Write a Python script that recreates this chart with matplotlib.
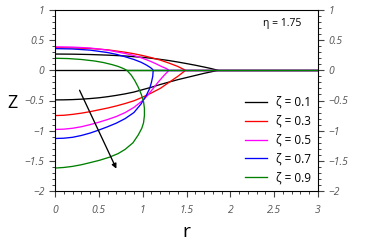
import matplotlib
matplotlib.use("Agg")
import matplotlib.pyplot as plt
from matplotlib.ticker import MultipleLocator

# ---- data ----
zeta_labels = ["ζ = 0.1", "ζ = 0.3", "ζ = 0.5", "ζ = 0.7", "ζ = 0.9"]
colors = ["black", "#ff0000", "#ff00ff", "#0000ff", "#008000"]

# zeta = 0.1 (upper surface out to tip, then lower surface back to axis)
r_01 = [0, 0.2, 0.4, 0.6, 0.8, 1.0, 1.1, 1.2, 1.3, 1.4, 1.5, 1.6, 1.7, 1.78, 1.86,
        1.78, 1.7, 1.6, 1.5, 1.4, 1.3, 1.2, 1.1, 1.0, 0.9, 0.8, 0.7, 0.6, 0.5, 0.4, 0.3, 0.2, 0.1, 0]
z_01 = [0.27, 0.268, 0.262, 0.252, 0.238, 0.215, 0.2, 0.182, 0.162, 0.138, 0.112, 0.085, 0.055, 0.03, 0.0,
        -0.025, -0.05, -0.085, -0.12, -0.155, -0.195, -0.235, -0.28, -0.32, -0.36, -0.39, -0.415, -0.437,
        -0.455, -0.468, -0.478, -0.485, -0.489, -0.49]
# zeta = 0.3
r_03 = [0, 0.2, 0.4, 0.6, 0.8, 0.9, 1.0, 1.1, 1.2, 1.3, 1.4, 1.49,
        1.4, 1.3, 1.2, 1.1, 1.0, 0.9, 0.8, 0.7, 0.6, 0.5, 0.4, 0.3, 0.2, 0.1, 0]
z_03 = [0.375, 0.372, 0.362, 0.34, 0.30, 0.275, 0.245, 0.21, 0.17, 0.12, 0.065, 0.0,
        -0.1, -0.2, -0.3, -0.375, -0.445, -0.505, -0.55, -0.59, -0.625, -0.655, -0.685, -0.71, -0.73,
        -0.745, -0.75]
# zeta = 0.5
r_05 = [0, 0.2, 0.4, 0.6, 0.8, 0.9, 1.0, 1.08, 1.15, 1.22, 1.27, 1.30,
        1.24, 1.18, 1.12, 1.06, 1.0, 0.9, 0.8, 0.7, 0.6, 0.5, 0.4, 0.3, 0.2, 0.1, 0]
z_05 = [0.39, 0.385, 0.37, 0.335, 0.28, 0.245, 0.2, 0.155, 0.11, 0.06, 0.03, 0.0,
        -0.09, -0.19, -0.3, -0.41, -0.5, -0.615, -0.7, -0.765, -0.815, -0.86, -0.9, -0.935, -0.96,
        -0.975, -0.98]
# zeta = 0.7
r_07 = [0, 0.2, 0.4, 0.6, 0.7, 0.8, 0.9, 0.98, 1.04, 1.09, 1.11, 1.12,
        1.115, 1.1, 1.08, 1.04, 0.98, 0.9, 0.8, 0.7, 0.6, 0.5, 0.4, 0.3, 0.2, 0.1, 0]
z_07 = [0.36, 0.354, 0.335, 0.295, 0.265, 0.225, 0.18, 0.135, 0.09, 0.045, 0.02, 0.0,
        -0.1, -0.2, -0.3, -0.42, -0.56, -0.7, -0.8, -0.875, -0.935, -0.99, -1.04, -1.08, -1.11,
        -1.125, -1.13]
# zeta = 0.9
r_09 = [0, 0.15, 0.3, 0.45, 0.55, 0.65, 0.72, 0.78, 0.82,
        0.87, 0.91, 0.95, 0.985, 1.01, 1.02, 1.02, 1.01, 0.99, 0.95, 0.89, 0.8, 0.72, 0.62, 0.51,
        0.4, 0.3, 0.2, 0.1, 0]
z_09 = [0.2, 0.195, 0.18, 0.155, 0.13, 0.095, 0.065, 0.03, 0.0,
        -0.08, -0.17, -0.28, -0.4, -0.52, -0.63, -0.75, -0.87, -0.96, -1.07, -1.2, -1.31, -1.38,
        -1.44, -1.49, -1.53, -1.565, -1.592, -1.61, -1.62]

r_series = [r_01, r_03, r_05, r_07, r_09]
z_series = [z_01, z_03, z_05, z_07, z_09]
tip_r = [1.86, 1.49, 1.30, 1.12, 0.82]

arrow_start = (0.28, -0.33)
arrow_end = (0.70, -1.63)
eta_text = "η = 1.75"

# ---- figure ----
fig = plt.figure(figsize=(3.74, 2.5), dpi=100)
ax = fig.add_axes([55/374, 1-191/250, 263/374, 181/250])

ax.axhline(0, color="black", lw=0.95, zorder=1)
for r, z, tr, c, lab in zip(r_series, z_series, tip_r, colors, zeta_labels):
    ax.plot(r, z, color=c, lw=0.95, label=lab, zorder=2)
    ax.plot([tr, 3], [0, 0], color=c, lw=0.95, zorder=2)

ax.annotate("", xy=arrow_end, xytext=arrow_start,
            arrowprops=dict(arrowstyle="-|>", color="black", lw=0.95,
                            mutation_scale=7, shrinkA=0, shrinkB=0))

ax.set_xlim(0, 3)
ax.set_ylim(-2, 1)
ax.xaxis.set_major_locator(MultipleLocator(0.5))
ax.xaxis.set_minor_locator(MultipleLocator(0.1))
ax.yaxis.set_major_locator(MultipleLocator(0.5))
ax.yaxis.set_minor_locator(MultipleLocator(0.1))

def fmt(v):
    return ("%g" % v).replace("-", "\u2212")

xt = [0, 0.5, 1, 1.5, 2, 2.5, 3]
yt = [-2, -1.5, -1, -0.5, 0, 0.5, 1]
ax.set_xticks(xt)
ax.set_xticklabels([fmt(v) for v in xt])
ax.set_yticks(yt)
ax.set_yticklabels([fmt(v) for v in yt])

ax.tick_params(axis="both", which="major", direction="out", length=4, width=0.8,
               color="#444444", labelsize=7.5, labelcolor="#555555")
ax.tick_params(axis="both", which="minor", direction="out", length=2.4, width=0.7,
               color="#444444")
ax.tick_params(axis="y", which="both", left=True, right=True, labelleft=True, labelright=True)
ax.tick_params(axis="x", which="both", top=False, bottom=True)
ax.tick_params(axis="x", which="major", pad=6)
for lbl in ax.get_xticklabels() + ax.get_yticklabels():
    lbl.set_fontstyle("italic")
    lbl.set_family("Open Sans")
for s in ax.spines.values():
    s.set_linewidth(0.8)

fig.text(13/374, 1-103/250, "Z", fontsize=13, ha="center", va="center", family="Open Sans")
fig.text(186/374, 1-232/250, "r", fontsize=14, ha="center", va="center", family="Open Sans")

ax.text(0.935, 0.925, eta_text, transform=ax.transAxes, ha="right", va="center",
        fontsize=7.5, family="Open Sans")

leg = ax.legend(loc="lower right", frameon=False, handlelength=1.9,
                handletextpad=0.8, labelspacing=0.5, borderaxespad=0.15,
                prop={"family": "Open Sans", "size": 8.5})

fig.savefig("out.png", dpi=100)
